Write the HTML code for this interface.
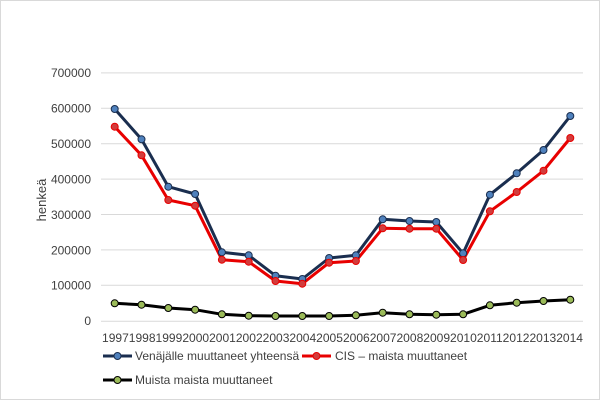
<!DOCTYPE html>
<html><head><style>body{margin:0;background:#fff}svg{display:block}</style></head><body>
<svg width="600" height="400" xmlns="http://www.w3.org/2000/svg" font-family="Liberation Sans, sans-serif" font-size="12" fill="#404040">
<rect x="0.5" y="0.5" width="599" height="399" fill="#fff" stroke="#d9d9d9"/>
<g stroke="#d9d9d9" stroke-width="1">
<line x1="101" x2="583" y1="72.9" y2="72.9"/>
<line x1="101" x2="583" y1="108.3" y2="108.3"/>
<line x1="101" x2="583" y1="143.7" y2="143.7"/>
<line x1="101" x2="583" y1="179.1" y2="179.1"/>
<line x1="101" x2="583" y1="214.5" y2="214.5"/>
<line x1="101" x2="583" y1="249.9" y2="249.9"/>
<line x1="101" x2="583" y1="285.3" y2="285.3"/>
<line x1="101" x2="583" y1="321.2" y2="321.2"/>
</g>
<g text-anchor="end">
<text x="91" y="77">700000</text><text x="91" y="112.5">600000</text><text x="91" y="148">500000</text><text x="91" y="183.5">400000</text><text x="91" y="219">300000</text><text x="91" y="254.5">200000</text><text x="91" y="289.5">100000</text><text x="91" y="325">0</text>
</g>
<text transform="translate(46,200) rotate(-90)" text-anchor="middle" font-size="13">henkeä</text>
<text x="102" y="342" textLength="481" lengthAdjust="spacingAndGlyphs">199719981999200020012002200320042005200620072008200920102011201220132014</text>
<g fill="none" stroke-width="3" stroke-linejoin="round">
<polyline stroke="#1a2e4f" points="114.7,109 141.5,139.3 168.3,186.7 195.1,194 221.9,252.3 248.7,255.3 275.5,275.7 302.3,279 329.1,258 355.9,255.3 382.7,219.3 409.5,221 436.3,222 463.1,253.3 489.9,194.7 516.7,173.3 543.5,150 570.3,116"/>
<polyline stroke="#e80000" points="114.7,126.7 141.5,155.3 168.3,200 195.1,205.7 221.9,259.7 248.7,261.7 275.5,281 302.3,283.7 329.1,262.7 355.9,261 382.7,228.3 409.5,228.7 436.3,228.7 463.1,260 489.9,211.3 516.7,192 543.5,170.7 570.3,138"/>
<polyline stroke="#000" points="114.7,303.3 141.5,304.7 168.3,308 195.1,309.7 221.9,314.3 248.7,315.7 275.5,316 302.3,316 329.1,316 355.9,315.3 382.7,312.7 409.5,314.3 436.3,314.7 463.1,314.3 489.9,305.3 516.7,302.7 543.5,301 570.3,299.7"/>
</g>
<g stroke-width="1">
<g fill="#4f81bd" stroke="#1a2e4f">
<circle cx="114.7" cy="109" r="3.5"/><circle cx="141.5" cy="139.3" r="3.5"/><circle cx="168.3" cy="186.7" r="3.5"/><circle cx="195.1" cy="194" r="3.5"/><circle cx="221.9" cy="252.3" r="3.5"/><circle cx="248.7" cy="255.3" r="3.5"/><circle cx="275.5" cy="275.7" r="3.5"/><circle cx="302.3" cy="279" r="3.5"/><circle cx="329.1" cy="258" r="3.5"/><circle cx="355.9" cy="255.3" r="3.5"/><circle cx="382.7" cy="219.3" r="3.5"/><circle cx="409.5" cy="221" r="3.5"/><circle cx="436.3" cy="222" r="3.5"/><circle cx="463.1" cy="253.3" r="3.5"/><circle cx="489.9" cy="194.7" r="3.5"/><circle cx="516.7" cy="173.3" r="3.5"/><circle cx="543.5" cy="150" r="3.5"/><circle cx="570.3" cy="116" r="3.5"/>
</g>
<g fill="#d23c3c" stroke="#e80000">
<circle cx="114.7" cy="126.7" r="3.5"/><circle cx="141.5" cy="155.3" r="3.5"/><circle cx="168.3" cy="200" r="3.5"/><circle cx="195.1" cy="205.7" r="3.5"/><circle cx="221.9" cy="259.7" r="3.5"/><circle cx="248.7" cy="261.7" r="3.5"/><circle cx="275.5" cy="281" r="3.5"/><circle cx="302.3" cy="283.7" r="3.5"/><circle cx="329.1" cy="262.7" r="3.5"/><circle cx="355.9" cy="261" r="3.5"/><circle cx="382.7" cy="228.3" r="3.5"/><circle cx="409.5" cy="228.7" r="3.5"/><circle cx="436.3" cy="228.7" r="3.5"/><circle cx="463.1" cy="260" r="3.5"/><circle cx="489.9" cy="211.3" r="3.5"/><circle cx="516.7" cy="192" r="3.5"/><circle cx="543.5" cy="170.7" r="3.5"/><circle cx="570.3" cy="138" r="3.5"/>
</g>
<g fill="#9bbb59" stroke="#000">
<circle cx="114.7" cy="303.3" r="3.5"/><circle cx="141.5" cy="304.7" r="3.5"/><circle cx="168.3" cy="308" r="3.5"/><circle cx="195.1" cy="309.7" r="3.5"/><circle cx="221.9" cy="314.3" r="3.5"/><circle cx="248.7" cy="315.7" r="3.5"/><circle cx="275.5" cy="316" r="3.5"/><circle cx="302.3" cy="316" r="3.5"/><circle cx="329.1" cy="316" r="3.5"/><circle cx="355.9" cy="315.3" r="3.5"/><circle cx="382.7" cy="312.7" r="3.5"/><circle cx="409.5" cy="314.3" r="3.5"/><circle cx="436.3" cy="314.7" r="3.5"/><circle cx="463.1" cy="314.3" r="3.5"/><circle cx="489.9" cy="305.3" r="3.5"/><circle cx="516.7" cy="302.7" r="3.5"/><circle cx="543.5" cy="301" r="3.5"/><circle cx="570.3" cy="299.7" r="3.5"/>
</g>
</g>
<line x1="103" x2="132" y1="356" y2="356" stroke="#1a2e4f" stroke-width="3"/>
<line x1="302" x2="331" y1="356" y2="356" stroke="#e80000" stroke-width="3"/>
<line x1="103" x2="132" y1="380" y2="380" stroke="#000" stroke-width="3"/>
<circle cx="117.5" cy="356" r="3.5" fill="#4f81bd" stroke="#1a2e4f"/>
<circle cx="316.5" cy="356" r="3.5" fill="#d23c3c" stroke="#e80000"/>
<circle cx="117.5" cy="380" r="3.5" fill="#9bbb59" stroke="#000"/>
<text x="135" y="360">Venäjälle muuttaneet yhteensä</text>
<text x="335" y="360">CIS – maista muuttaneet</text>
<text x="135" y="384">Muista maista muuttaneet</text>
</svg>
</body></html>
